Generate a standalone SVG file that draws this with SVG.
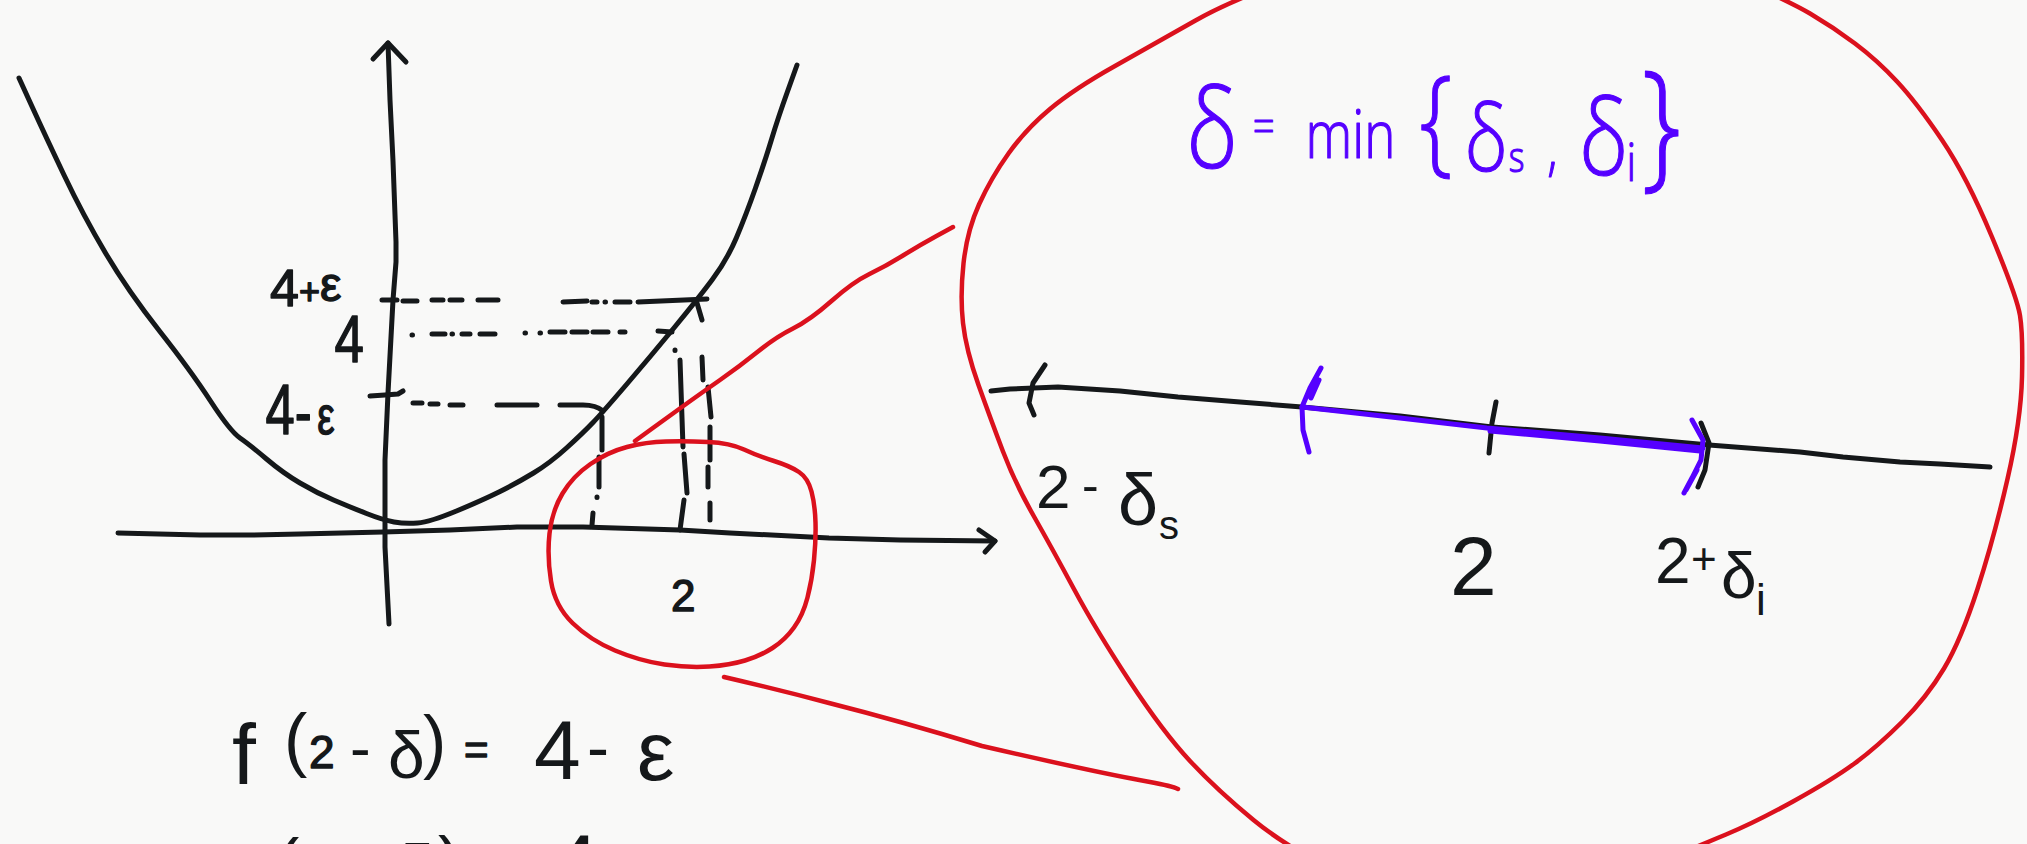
<svg xmlns="http://www.w3.org/2000/svg" width="2027" height="844" viewBox="0 0 2027 844">
<defs><style>
.k{fill:none;stroke:#15181a;stroke-width:5;stroke-linecap:round;stroke-linejoin:round}
.r{fill:none;stroke:#db111d;stroke-width:4.5;stroke-linecap:round;stroke-linejoin:round}
.p{fill:none;stroke:#5500ff;stroke-width:5;stroke-linecap:round;stroke-linejoin:round}
.t{font-family:"Liberation Sans","DejaVu Sans",sans-serif;fill:#15181a}
.b{stroke:#15181a;stroke-width:1.4;stroke-linejoin:round}
.tp{font-family:"Open Sans","Liberation Sans",sans-serif;font-weight:300;fill:#5500ff;stroke:#5500ff;stroke-width:1.2;stroke-linejoin:round}
</style></defs>
<rect width="2027" height="844" fill="#f9f9f8"/>

<g id="axes">
<path class="k" d="M388 43 L390 100 L393 161 L396 242 L396 262 L393 300 L388 393 L385 460 L385 547 L389 624"/>
<path class="k" d="M373 59 L388 43 L406 62"/>
<path class="k" d="M118 533 L200 535 L250 535 L300 534 L383 532 L450 530 L517 527 L583 527 L680 530 L730 533 L829 538 L900 540 L995 541"/>
<path class="k" d="M979 530 L995 541 L985 552"/>
</g>

<g id="parabola">
<path class="k" d="M19 78 L32 106.5 Q45 135 64 175 Q83 215 105.5 253 Q128 291 159.5 331 Q191 371 210.5 401 Q230 431 240 438 Q250 445 266.5 459 Q283 473 300 483 Q317 493 333.5 500 Q350 507 366.5 513.5 Q383 520 394 522 Q405 524 417.5 523 Q430 522 456.5 511 Q483 500 500 491.5 Q517 483 533.5 473 Q550 463 566.5 448 Q583 433 593 422.5 Q603 412 626.5 384.5 Q650 357 673.5 328.5 Q697 300 712 280 Q727 260 736.5 237.5 Q746 215 755.5 188 Q765 161 771.5 139.5 Q778 118 787.5 91.5 L797 65"/>
</g>

<g id="guides">
<path class="k" d="M382 300 L397 300 M403 301 L417 301 M432 300 L443 300 M450 300 L462 300 M478 300 L498 300 M563 302 L587 301 M592 302 L597 302 M605 302 L605.5 302 M615 302 L630 302 M638 302 L707 299"/>
<path class="k" d="M412 335 L412.5 335 M432 334 L445 334 M452 334 L452.5 334 M462 334 L470 334 M480 334 L495 334 M525 333 L525.5 333 M540 333 L540.5 333 M550 332 L565 332 M572 332 L587 332 M593 332 L608 332 M620 332 L625 332 M658 331 L672 332"/>
<path class="k" d="M370 396 L385 395 L398 394 L403 391 M413 403 L422 403 M430 404 L438 404 M450 405 L463 405 M497 405 L537 405 M560 405 L583 405 Q596 405 603 411"/>
<path class="k" d="M602 417 L602 450 M599 457 L599 487 M597 497 L597 497.5 M593 513 L592 525"/>
<path class="k" d="M675 350 L675 350.5 M680 360 L683 447 M684 454 L687 493 M684 500 L680 530"/>
<path class="k" d="M697 303 L702 320 M702 357 L703 380 M708 387 L711 417 M710 427 L710 460 M708 467 L708 487 M710 503 L710 520"/>
</g>

<g id="graph-labels">
<text class="t b"><tspan x="270" y="306" font-size="52">4</tspan><tspan x="299" y="304" font-size="36">+</tspan><tspan x="320" y="301" font-size="48">ε</tspan></text>
<text class="t b" transform="scale(0.8 1)" x="418" y="362" font-size="66">4</text>
<text class="t b" transform="scale(0.75 1)"><tspan x="354" y="434" font-size="70">4</tspan><tspan x="393" y="436" font-size="68">-</tspan><tspan x="423" y="434" font-size="52">ε</tspan></text>
<text class="t b" x="671" y="611" font-size="44">2</text>
</g>

<g id="equation">
<text class="t"><tspan x="232" y="784" font-size="86">f</tspan><tspan x="284" y="763" font-size="70">(</tspan><tspan class="b" x="309" y="768" font-size="46">2</tspan><tspan x="350" y="769" font-size="62">-</tspan><tspan x="388" y="778" font-size="66">δ</tspan><tspan x="423" y="765" font-size="70">)</tspan><tspan class="b" x="464" y="764" font-size="42">=</tspan><tspan x="534" y="779" font-size="84">4</tspan><tspan x="587" y="770" font-size="66">-</tspan><tspan x="637" y="780" font-size="84">ε</tspan></text>
<text class="t"><tspan x="226" y="915" font-size="86">f</tspan><tspan x="276" y="888" font-size="70">(</tspan><tspan x="305" y="905" font-size="46">2</tspan><tspan x="345" y="905" font-size="62">+</tspan><tspan x="398" y="891" font-size="66">δ</tspan><tspan x="438" y="886" font-size="70">)</tspan><tspan x="478" y="905" font-size="40">=</tspan><tspan x="552" y="893" font-size="84">4</tspan><tspan x="602" y="905" font-size="66">+</tspan><tspan x="645" y="905" font-size="84">ε</tspan></text>
</g>

<g id="small-circle">
<path class="r" d="M666 441.5 Q686 441 708 442 Q730 443 744 449.5 Q758 456 774 461 Q790 466 799 472 Q808 478 811.5 491.5 Q815 505 815.5 522.5 Q816 540 814 560 Q812 580 807.5 597.5 Q803 615 794 627.5 Q785 640 772.5 648 Q760 656 745 660.5 Q730 665 709.5 666.5 Q689 668 664.5 664.5 Q640 661 615 650.5 Q590 640 572.5 623 Q555 606 551 581 Q547 556 549.5 533.5 Q552 511 562.5 493.5 Q573 476 590.5 464 Q608 452 627 447 Q646 442 666 441.5 Z"/>
</g>

<g id="connectors">
<path class="r" d="M635 441 L651.5 429 Q668 417 684 405.5 Q700 394 720 380 Q740 366 758 351.5 Q776 337 793 328.5 Q810 320 831.5 301 Q853 282 869.5 274 Q886 266 903 255.5 Q920 245 936.5 236 L953 227"/>
<path class="r" d="M724 677 Q780 690 829 703 Q900 721 982 746 Q1099 773 1150 782 Q1172 786 1178 789"/>
</g>

<g id="big-circle">
<path class="r" d="M1317.5 -31 Q1235 -2 1195.5 20.5 Q1156 43 1115 66 Q1074 89 1050 109 Q1026 129 1008.5 153.5 Q991 178 979 204.5 Q967 231 963.5 263.5 Q960 296 963 323 Q966 350 978.5 385 Q991 420 1003 451.5 Q1015 483 1034 516.5 Q1053 550 1074.5 590 Q1096 630 1129.5 681 Q1163 732 1190 761 Q1217 790 1253.5 820 Q1290 850 1345 875 Q1400 900 1480 902.5 Q1560 905 1629 875.5 Q1698 846 1726 834.5 Q1754 823 1793 801.5 Q1832 780 1854.5 763.5 Q1877 747 1902 722 Q1927 697 1944 668.5 Q1961 640 1977.5 589 Q1994 538 2007.5 479 Q2021 420 2022 377 Q2023 334 2020 315.5 Q2017 297 1992 237 Q1967 177 1942 140 Q1917 103 1897 81.5 Q1877 60 1855 43.5 Q1833 27 1810 13.5 Q1787 0 1718.5 -30 Q1650 -60 1525 -60 Q1400 -60 1317.5 -31 Z"/>
</g>

<g id="number-line">
<path class="k" d="M991 391 L1010 389 L1058 387 L1120 391 L1178 397 L1240 402 L1302 407 L1400 416 L1492 427 L1600 435 L1709 445 L1800 452 L1843 457 L1900 462 L1940 464 L1990 467"/>
<path class="k" d="M1045 365 L1033 383 L1029 403 L1034 415"/>
<path class="k" d="M1496 402 L1492 423 L1489 453"/>
<path class="k" d="M1701 423 L1709 443 L1705 470 L1698 487"/>
</g>

<g id="interval">
<path class="p" stroke-width="7" d="M1302 407 L1400 418 L1487 428 L1600 438 L1703 448"/>
<path class="p" d="M1490 431 L1600 441 L1700 451"/>
<path class="p" d="M1321 368 L1310 388 L1302 407 L1303 430 L1309 452 M1319 380 L1311 398"/>
<path class="p" d="M1692 420 L1703 440 L1701 460 L1692 478 L1684 493 M1697 470 L1686 490"/>
</g>

<g id="number-labels">
<text class="t"><tspan x="1036" y="508" font-size="62">2</tspan><tspan x="1082" y="502" font-size="50">-</tspan><tspan x="1118" y="525" font-size="72">δ</tspan><tspan x="1159" y="539" font-size="40">s</tspan></text>
<text class="t" x="1450" y="595" font-size="84">2</text>
<text class="t"><tspan x="1655" y="583" font-size="64">2</tspan><tspan x="1691" y="574" font-size="44">+</tspan><tspan x="1721" y="598" font-size="64">δ</tspan><tspan x="1756" y="615" font-size="44">i</tspan></text>
</g>

<g id="delta-formula">
<text class="tp" transform="scale(0.8 1)"><tspan x="1483" y="168" font-size="110">δ</tspan><tspan x="1566" y="143" font-size="48">=</tspan><tspan x="1632" y="158" font-size="66">min</tspan><tspan x="1774" y="160" font-size="118">{</tspan><tspan x="1831" y="171" font-size="92">δ</tspan><tspan x="1886" y="172" font-size="42">s</tspan><tspan x="1934" y="169" font-size="60">,</tspan><tspan x="1974" y="175" font-size="105">δ</tspan><tspan x="2033" y="181" font-size="53">i</tspan><tspan x="2052" y="172" font-size="140">}</tspan></text>
</g>
</svg>
